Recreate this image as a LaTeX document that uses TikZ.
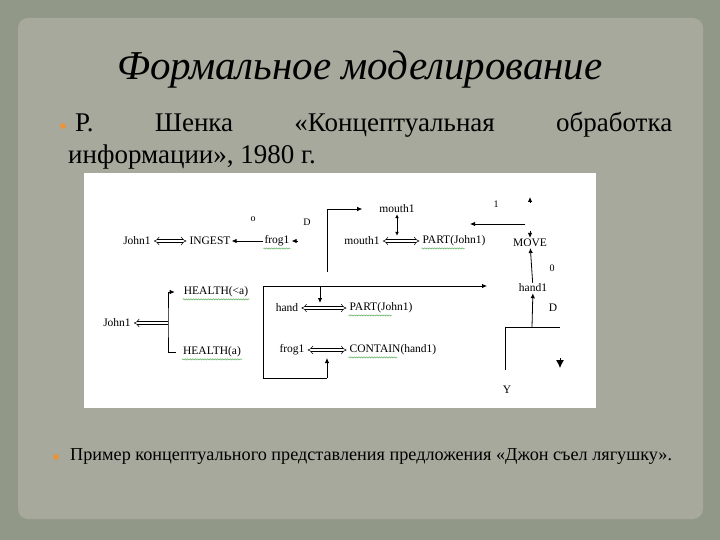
\documentclass[tikz,border=0pt]{standalone}
\usepackage{fontspec}
\setmainfont{Liberation Serif}
\usetikzlibrary{arrows.meta,decorations.pathmorphing}
\definecolor{paper}{RGB}{166,169,156}
\definecolor{paperedge}{RGB}{146,152,136}
\definecolor{bulletc}{RGB}{232,148,62}
\definecolor{spell}{RGB}{96,176,96}
\tikzset{
  lbl/.style={font=\fontsize{11.5}{13}\selectfont, inner sep=1pt},
  tag/.style={font=\fontsize{10}{12}\selectfont, inner sep=1pt},
  conn/.style={line width=0.8pt, -{Latex[length=5pt,width=4.5pt]}},
  plain/.style={line width=0.8pt},
  dbl/.style={double, double distance=2.4pt, line width=0.5pt, {Implies}-{Implies}, shorten <=2pt, shorten >=2pt},
  dblleft/.style={double, double distance=2.4pt, line width=0.5pt, -{Implies}, shorten >=2pt},
  spellmark/.style={spell, line width=0.5pt, decorate, decoration={snake, amplitude=0.6pt, segment length=2.5pt}},
}
\begin{document}
\begin{tikzpicture}[x=1pt,y=-1pt]
\useasboundingbox (0,0) rectangle (720,540);
\fill[paperedge] (0,0) rectangle (720,540);
\fill[paper, rounded corners=10pt] (18,18) rectangle (703,519);

% heading and source line
\node[font=\fontsize{41}{45}\selectfont\itshape] (title) at (360,70) {Формальное моделирование};
\fill[bulletc] (63,126) circle (3pt);
\node[anchor=north west, text width=604pt, align=justify, inner sep=0pt,
      font=\fontsize{27}{32}\selectfont] (source) at (68,112)
  {\hspace*{7pt}Р. Шенка «Концептуальная обработка\linebreak информации», 1980 г.};

% white picture area
\fill[white] (84,173) rectangle (596,408);

% upper row
\node[lbl] (john1) at (137,241) {John1};
\node[lbl] (ingest) at (210,241) {INGEST};
\node[lbl] (frog1) at (277,241) {frog1};
\node[tag] (tagO) at (253,219) {o};
\node[tag] (tagD) at (307,222) {D};
\draw[dbl] (john1) -- (ingest);
\draw[conn] (frog1) -- (ingest);
\draw[conn] ([xshift=7pt]frog1.east) -- ([xshift=1pt]frog1.east);

\node[lbl] (mouthA) at (397,209) {mouth1};
\node[lbl] (mouthB) at (362,241) {mouth1};
\node[lbl] (partA) at (454,241) {PART(John1)};
\coordinate (mbase) at (327,272);
\draw[conn, shorten >=16pt] (mbase) |- (mouthA.west);
\draw[line width=0.8pt, {Latex[length=4pt,width=4pt]}-{Latex[length=4pt,width=4pt]}] (mouthA.south) -- (mouthA.south |- mouthB.north);
\draw[dbl] (mouthB) -- (partA);

\node[lbl] (move) at (530,243) {MOVE};
\node[tag] (tagI) at (496,204) {1};
\coordinate (iend) at (525,224);
\coordinate (itip) at (470,224);
\draw[conn] (iend) -- (itip);
\draw[conn] (530,202) -- (530,197);
\draw[conn] (move.north) ++(0,-7) -- (move.north);

\node[lbl] (hand1) at (533,288) {hand1};
\node[tag] (tagO2) at (552,268) {0};
\draw[conn] (hand1) -- (move);

% left branch
\node[lbl] (john2) at (117,323) {John1};
\node[lbl] (healthA) at (216,292) {HEALTH(<a)};
\node[lbl] (healthB) at (212,352) {HEALTH(a)};
\coordinate (bk) at (168,323);
\draw[dblleft] (bk) -- (john2);
\draw[conn, shorten <=6pt, shorten >=8pt] (healthB.west) -| (bk) |- (healthA.west);

% instrument box
\node[lbl] (hand) at (287,308) {hand};
\node[lbl] (partB) at (381,308) {PART(John1)};
\node[lbl] (frog2) at (292,350) {frog1};
\node[lbl] (contain) at (393,350) {CONTAIN(hand1)};
\draw[dbl] (hand) -- (partB);
\draw[dbl] (frog2) -- (contain);
\coordinate (bxbl) at (263,378);
\coordinate (bxtl) at (263,286);
\coordinate (bxup) at (327,358);
\coordinate (bxdn) at (320,303);
\coordinate (longtip) at (487,286);
\draw[conn] (bxup |- bxbl) -- (bxbl) -- (bxtl) -- (longtip);
\draw[conn] (bxup |- bxbl) -- (bxup);
\draw[conn] (bxdn |- bxtl) -- (bxdn);

% lower right
\coordinate (yc) at (532,327);
\draw[conn] (yc) -- (hand1);
\draw[plain] (560,327) -- (505,327) -- (505,370);
\node[lbl] (tagY) at (507,390) {Y};
\node[lbl] (tagD2) at (553,308) {D};
\draw[line width=0.8pt, -{Latex[length=8pt,width=8pt]}] (560,358) -- (560,368);

% spelling marks
\draw[spellmark] ([yshift=-1pt]frog1.south west) -- ([yshift=-1pt]frog1.south east);
\draw[spellmark] ([yshift=-1pt]partA.south west) -- ([yshift=-1pt,xshift=-22pt]partA.south east);
\draw[spellmark] ([yshift=-1pt]healthA.south west) -- ([yshift=-1pt]healthA.south east);
\draw[spellmark] ([yshift=-1pt]healthB.south west) -- ([yshift=-1pt]healthB.south east);
\draw[spellmark] ([yshift=-1pt]partB.south west) -- ([yshift=-1pt,xshift=-22pt]partB.south east);
\draw[spellmark] ([yshift=-1pt]contain.south west) -- ([yshift=-1pt,xshift=-40pt]contain.south east);

% caption
\fill[bulletc] (56,457) circle (3pt);
\node[anchor=west, inner sep=0pt, font=\fontsize{18.2}{20}\selectfont] (caption) at (70,457)
  {Пример концептуального представления предложения «Джон съел лягушку».};
\end{tikzpicture}
\end{document}
